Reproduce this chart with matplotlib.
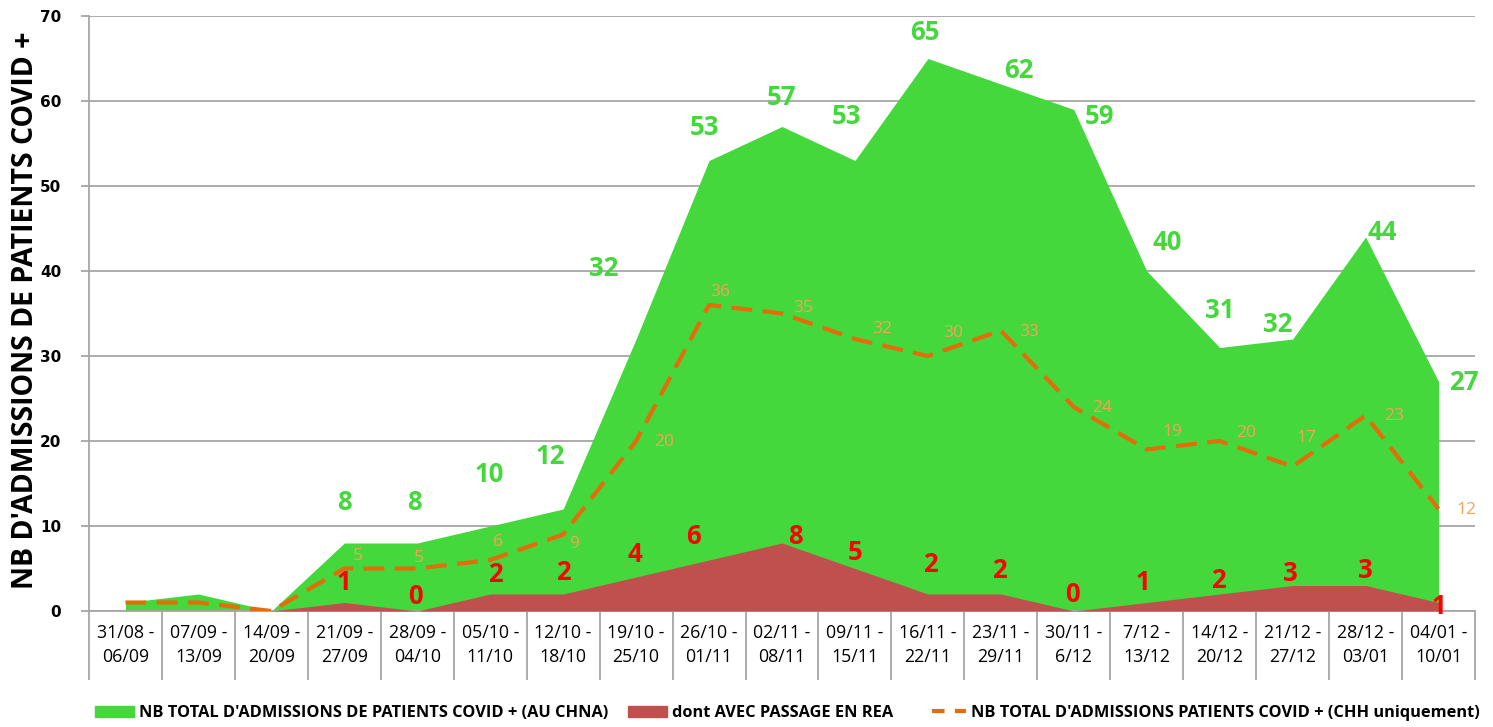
import matplotlib as mpl
mpl.use("Agg")
import matplotlib.pyplot as plt
from matplotlib.patches import Patch
from matplotlib.lines import Line2D

plt.rcParams['font.family'] = ['Open Sans', 'DejaVu Sans']

weeks = ["31/08 -\n06/09", "07/09 -\n13/09", "14/09 -\n20/09", "21/09 -\n27/09",
         "28/09 -\n04/10", "05/10 -\n11/10", "12/10 -\n18/10", "19/10 -\n25/10",
         "26/10 -\n01/11", "02/11 -\n08/11", "09/11 -\n15/11", "16/11 -\n22/11",
         "23/11 -\n29/11", "30/11 -\n6/12", "7/12 -\n13/12", "14/12 -\n20/12",
         "21/12 -\n27/12", "28/12 -\n03/01", "04/01 -\n10/01"]
total_chna = [1, 2, 0, 8, 8, 10, 12, 32, 53, 57, 53, 65, 62, 59, 40, 31, 32, 44, 27]
rea = [0, 0, 0, 1, 0, 2, 2, 4, 6, 8, 5, 2, 2, 0, 1, 2, 3, 3, 1]
chh_only = [1, 1, 0, 5, 5, 6, 9, 20, 36, 35, 32, 30, 33, 24, 19, 20, 17, 23, 12]

# label offsets in pixels (first three weeks have no labels)
green_off = [None, None, None, (0, 40), (-3, 40), (-1, 51), (-13, 52), (-32, 71),
             (-5, 33), (0, 29), (-8, 44), (-3, 26), (18, 14), (26, -7), (20, 28),
             (0, 37), (-15, 14), (17, 4), (25, -1)]
red_off = [None, None, None, (0, 20), (-2, 14), (5, 20), (0, 21), (-1, 23),
           (-16, 23), (13, 6), (0, 16), (3, 30), (-1, 23), (-1, 16), (-4, 20),
           (-1, 14), (-2, 12), (0, 15), (0, -4)]
orange_off = [None, None, None, (14, 13), (2, 10), (8, 18), (11, -10), (28, -1),
              (11, 13), (21, 5), (27, 10), (25, 23), (28, -1), (28, -1), (26, 17),
              (26, 8), (14, 29), (29, 0), (28, -1)]

GREEN = '#44d83c'
RED = '#c0504d'
ORANGE = '#e46c0a'
GRID = '#a6a6a6'

W, H = 1493, 727
fig = plt.figure(figsize=(W / 100, H / 100), dpi=100)
ax = fig.add_axes([89 / W, (H - 611) / H, (1475 - 89) / W, (611 - 16) / H])

x = list(range(len(weeks)))
ax.fill_between(x, total_chna, color=GREEN, lw=0, zorder=2)
ax.fill_between(x, rea, color=RED, lw=0, zorder=3)
ax.plot(x, chh_only, color=ORANGE, lw=3, dashes=(5, 2.5), zorder=4)

for i in x:
    if green_off[i] is not None:
        ax.annotate(str(total_chna[i]), (i, total_chna[i]), xytext=green_off[i],
                    textcoords='offset pixels', ha='center', va='center',
                    fontsize=18.5, fontweight='bold', color=GREEN, zorder=6)
    if red_off[i] is not None:
        ax.annotate(str(rea[i]), (i, rea[i]), xytext=red_off[i],
                    textcoords='offset pixels', ha='center', va='center',
                    fontsize=18.5, fontweight='bold', color='#ff0000', zorder=6,
                    annotation_clip=False)
    if orange_off[i] is not None:
        ax.annotate(str(chh_only[i]), (i, chh_only[i]), xytext=orange_off[i],
                    textcoords='offset pixels', ha='center', va='center',
                    fontsize=12.5, color='#f4a25a', zorder=6)

ax.set_xlim(-0.5, len(weeks) - 0.5)
ax.set_ylim(0, 70)
ax.set_yticks(range(0, 71, 10))
ax.set_yticklabels([str(v) for v in range(0, 71, 10)], fontsize=11,
                   fontweight='bold', family='DejaVu Sans')
ax.yaxis.grid(True, color=GRID, lw=1.3)
ax.set_axisbelow(True)
ax.tick_params(axis='y', length=6, color=GRID, width=1.3, pad=14)

ax.set_xticks(x)
ax.set_xticklabels(weeks, fontsize=12.8, linespacing=1.5)
ax.set_xticks([i - 0.5 for i in range(len(weeks) + 1)], minor=True)
ax.tick_params(axis='x', which='major', length=0, pad=9)
ax.tick_params(axis='x', which='minor', length=50, color=GRID, width=1.3)

for s in ['top', 'right']:
    ax.spines[s].set_visible(False)
ax.spines['left'].set_color(GRID)
ax.spines['left'].set_linewidth(1.3)
ax.spines['bottom'].set_color(GRID)
ax.spines['bottom'].set_linewidth(1.3)

fig.text(26 / W, 1 - 310 / H, "NB D'ADMISSIONS DE PATIENTS COVID +", rotation=90,
         ha='center', va='center', fontsize=20.5, fontweight='bold')

leg_font = dict(size=11.8, weight='bold')
items = [
    (95, Patch(color=GREEN), "NB TOTAL D'ADMISSIONS DE PATIENTS COVID + (AU CHNA)", 2.4),
    (628, Patch(color=RED), "dont AVEC PASSAGE EN REA", 2.4),
    (932, Line2D([], [], color=ORANGE, lw=3, dashes=(3, 2.5)),
     "NB TOTAL D'ADMISSIONS PATIENTS COVID + (CHH uniquement)", 2.1),
]
for xpos, handle, label, hl in items:
    fig.legend([handle], [label], loc='center left', bbox_to_anchor=(xpos / W, 1 - 713 / H),
               frameon=False, prop=leg_font, borderpad=0, borderaxespad=0,
               handlelength=hl, handleheight=0.62, handletextpad=0.3)

fig.savefig("out.png", dpi=100)
